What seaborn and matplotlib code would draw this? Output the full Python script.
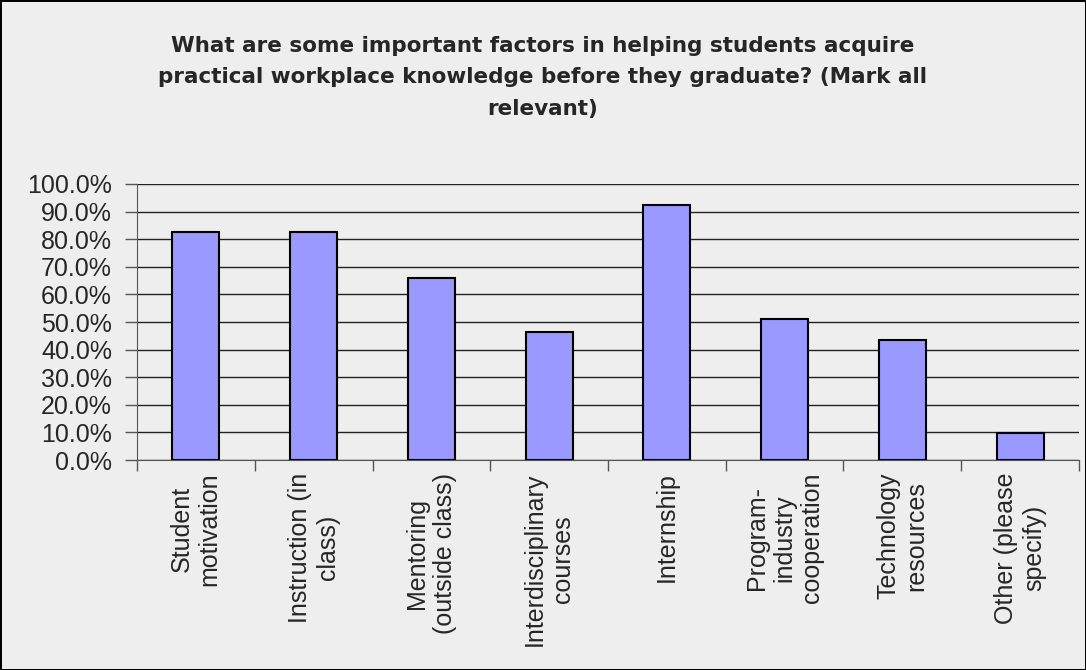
import matplotlib
matplotlib.use("Agg")
import matplotlib.pyplot as plt
import seaborn as sns
import pandas as pd
from matplotlib.ticker import PercentFormatter, FixedLocator

categories = ["Student\nmotivation", "Instruction (in\nclass)", "Mentoring\n(outside class)",
              "Interdisciplinary\ncourses", "Internship", "Program-\nindustry\ncooperation",
              "Technology\nresources", "Other (please\nspecify)"]
values = [82.7, 82.7, 65.9, 46.3, 92.5, 51.1, 43.5, 9.8]
y_ticks = [0, 10, 20, 30, 40, 50, 60, 70, 80, 90, 100]

df = pd.DataFrame({"factor": categories, "pct": values})

sns.set_style("white")
bg = "#eeeeee"
fig = plt.figure(figsize=(10.86, 6.70), dpi=100)
fig.patch.set_facecolor(bg)
fig.patch.set_edgecolor("black")
fig.patch.set_linewidth(2)
ax = fig.add_axes([0.1262, 0.3134, 0.8673, 0.412])
ax.set_facecolor(bg)

sns.barplot(data=df, x="factor", y="pct", color="#9999ff", edgecolor="black",
            linewidth=1.5, width=0.4, saturation=1, ax=ax, zorder=3)

ax.set_ylim(0, 100)
ax.set_xlim(-0.5, len(categories) - 0.5)
ax.yaxis.set_major_locator(FixedLocator(y_ticks))
ax.yaxis.set_major_formatter(PercentFormatter(decimals=1))
ax.grid(axis="y", color="#222222", linewidth=1, zorder=0)
ax.set_axisbelow(True)

for side in ["top", "right"]:
    ax.spines[side].set_visible(False)
ax.spines["left"].set_color("#555555")
ax.spines["bottom"].set_color("#555555")

ax.tick_params(axis="y", direction="out", length=9, width=1, color="#555555",
               pad=9, labelsize=18, left=True)
ax.tick_params(axis="x", which="major", length=0, pad=9, labelsize=18)
ax.set_xticks([i - 0.5 for i in range(len(categories) + 1)], minor=True)
ax.tick_params(axis="x", which="minor", direction="out", length=8, width=1,
               color="#555555", bottom=True)
for lab in ax.get_xticklabels():
    lab.set_rotation(90)
    lab.set_va("top")
    lab.set_ha("center")
    lab.set_multialignment("center")
    lab.set_fontfamily("Liberation Sans")
for lab in ax.get_yticklabels():
    lab.set_fontfamily("Liberation Sans")

ax.set_xlabel("")
ax.set_ylabel("")

fig.text(0.5, 0.947, "What are some important factors in helping students acquire\n"
         "practical workplace knowledge before they graduate? (Mark all\nrelevant)",
         ha="center", va="top", fontsize=15.5, fontweight="bold", family="DejaVu Sans",
         linespacing=1.72)

plt.savefig("out.png", dpi=100, facecolor=bg, edgecolor="black")
